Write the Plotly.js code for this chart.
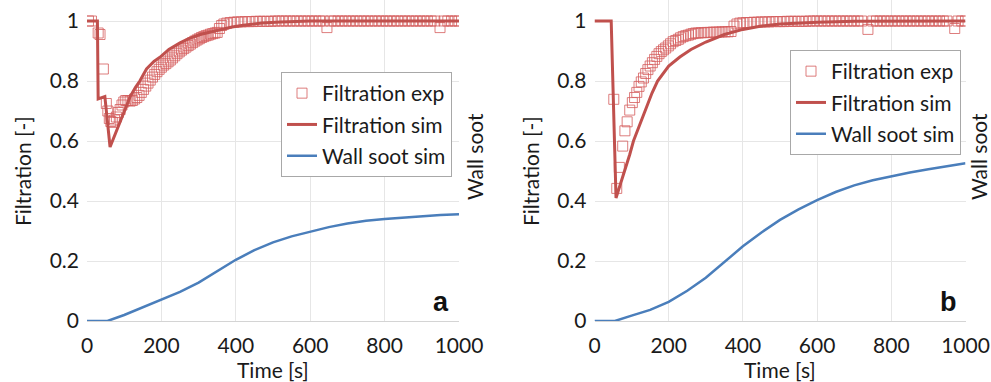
<!DOCTYPE html>
<html>
<head>
<meta charset="utf-8">
<script src="https://cdn.plot.ly/plotly-3.0.1.min.js"></script>
<style>html,body{margin:0;padding:0;background:#fff;}#chart{width:991px;height:382px;}</style>
</head>
<body>
<div id="chart"></div>
<script>
// ---- Panel a data ----
const expA_t = [4, 12, 30, 35, 44, 52, 56, 60, 64, 69, 74, 79, 84, 89, 94, 99, 104, 110, 116, 122, 128, 134, 140, 146, 152, 158, 164, 170, 176, 182, 188, 194, 200, 206, 212, 218, 224, 230, 236, 242, 248, 254, 260, 266, 272, 278, 284, 290, 296, 302, 308, 314, 320, 326, 332, 338, 344, 350, 356, 362, 368, 376, 385, 395, 405, 415, 425, 435, 445, 455, 465, 475, 485, 495, 505, 515, 525, 535, 545, 555, 565, 575, 585, 595, 605, 615, 625, 635, 645, 655, 665, 675, 685, 695, 705, 715, 725, 735, 745, 755, 765, 775, 785, 795, 805, 815, 825, 835, 845, 855, 865, 875, 885, 895, 905, 915, 925, 935, 949, 960, 970, 980, 990, 1000];
const expA_v = [1.0, 1.0, 0.96, 0.955, 0.84, 0.725, 0.70, 0.675, 0.665, 0.662, 0.67, 0.68, 0.695, 0.705, 0.72, 0.73, 0.735, 0.735, 0.733, 0.735, 0.74, 0.745, 0.752, 0.762, 0.772, 0.783, 0.793, 0.803, 0.813, 0.822, 0.831, 0.839, 0.846, 0.853, 0.858, 0.864, 0.870, 0.877, 0.884, 0.891, 0.897, 0.903, 0.908, 0.913, 0.918, 0.923, 0.928, 0.933, 0.937, 0.941, 0.945, 0.948, 0.951, 0.953, 0.956, 0.958, 0.960, 0.962, 0.975, 0.985, 0.990, 0.993, 0.995, 0.996, 0.997, 0.997, 0.998, 0.998, 0.998, 0.999, 0.999, 0.999, 0.999, 0.999, 1.0, 1.0, 1.0, 1.0, 1.0, 1.0, 1.0, 1.0, 1.0, 1.0, 1.0, 1.0, 1.0, 1.0, 0.978, 1.0, 1.0, 1.0, 1.0, 1.0, 1.0, 1.0, 1.0, 1.0, 1.0, 1.0, 1.0, 1.0, 1.0, 1.0, 1.0, 1.0, 1.0, 1.0, 1.0, 1.0, 1.0, 1.0, 1.0, 1.0, 1.0, 1.0, 1.0, 1.0, 0.978, 1.0, 1.0, 1.0, 1.0, 1.0];
const simA_t = [0, 28, 30, 40, 48, 62, 80, 100, 116, 130, 142, 160, 180, 196, 220, 250, 275, 304, 330, 357, 390, 420, 470, 520, 600, 700, 800, 900, 1000];
const simA_v = [1.0, 1.0, 0.74, 0.745, 0.748, 0.58, 0.635, 0.70, 0.748, 0.778, 0.80, 0.84, 0.865, 0.879, 0.905, 0.927, 0.942, 0.955, 0.963, 0.970, 0.980, 0.986, 0.993, 0.997, 1.0, 1.0, 1.0, 1.0, 1.0];
const wallA_t = [0, 55, 100, 150, 200, 250, 300, 350, 400, 450, 500, 550, 600, 650, 700, 750, 800, 850, 900, 950, 1000];
const wallA_v = [0, 0, 0.02, 0.045, 0.07, 0.097, 0.128, 0.165, 0.204, 0.236, 0.262, 0.282, 0.298, 0.313, 0.325, 0.334, 0.340, 0.345, 0.349, 0.353, 0.356];

// ---- Panel b data ----
const expB_t = [52, 60, 67, 76, 82, 88, 95, 102, 108, 114, 120, 126, 132, 138, 144, 150, 156, 162, 168, 174, 180, 186, 192, 199, 205, 212, 219, 226, 232, 239, 246, 253, 260, 266, 273, 280, 288, 296, 304, 312, 320, 328, 336, 344, 352, 360, 368, 376, 384, 392, 400, 410, 420, 430, 440, 450, 460, 470, 480, 490, 500, 510, 520, 530, 540, 550, 560, 570, 580, 590, 600, 610, 620, 630, 640, 650, 660, 670, 680, 690, 700, 710, 720, 737, 750, 760, 770, 780, 790, 800, 810, 820, 830, 840, 850, 860, 870, 880, 890, 900, 910, 920, 930, 940, 950, 971, 980, 990, 1000];
const expB_v = [0.739, 0.442, 0.512, 0.583, 0.634, 0.664, 0.703, 0.728, 0.745, 0.762, 0.782, 0.797, 0.810, 0.825, 0.838, 0.850, 0.861, 0.872, 0.882, 0.891, 0.898, 0.904, 0.910, 0.917, 0.924, 0.931, 0.935, 0.939, 0.944, 0.948, 0.951, 0.953, 0.956, 0.958, 0.960, 0.960, 0.961, 0.961, 0.962, 0.962, 0.963, 0.963, 0.963, 0.964, 0.964, 0.964, 0.965, 0.983, 0.990, 0.993, 0.994, 0.995, 0.995, 0.996, 0.996, 0.997, 0.997, 0.997, 0.998, 0.998, 0.998, 0.998, 0.999, 0.999, 0.999, 0.999, 0.999, 0.999, 1.0, 1.0, 1.0, 1.0, 1.0, 1.0, 1.0, 1.0, 1.0, 1.0, 1.0, 1.0, 1.0, 1.0, 1.0, 0.972, 1.0, 1.0, 1.0, 1.0, 1.0, 1.0, 1.0, 1.0, 1.0, 1.0, 1.0, 1.0, 1.0, 1.0, 1.0, 1.0, 1.0, 1.0, 1.0, 1.0, 1.0, 0.975, 1.0, 1.0, 1.0];
const simB_t = [0, 45, 58, 70, 82, 95, 105, 120, 140, 155, 170, 200, 230, 260, 300, 350, 400, 450, 500, 600, 700, 800, 900, 1000];
const simB_v = [1.0, 1.0, 0.41, 0.455, 0.50, 0.555, 0.60, 0.65, 0.71, 0.76, 0.80, 0.85, 0.88, 0.905, 0.93, 0.955, 0.972, 0.983, 0.99, 0.996, 0.999, 1.0, 1.0, 1.0];
const wallB_t = [0, 55, 100, 150, 200, 250, 300, 350, 400, 450, 500, 550, 600, 650, 700, 750, 800, 850, 900, 950, 1000];
const wallB_v = [0, 0, 0.018, 0.037, 0.064, 0.101, 0.144, 0.196, 0.249, 0.295, 0.337, 0.372, 0.403, 0.43, 0.452, 0.469, 0.483, 0.495, 0.506, 0.517, 0.526];

// ---- Labels ----
const seriesNames = ["Filtration exp", "Filtration sim", "Wall soot sim"];
const xTitle = "Time [s]";
const yTitle = "Filtration [-]";
const y2Title = "Wall soot";
const panelLetters = ["a", "b"];

const W = 991, H = 382;
const FONT = "Lato, 'Open Sans', sans-serif";
const expStyle = {symbol: "square-open", size: 10, color: "rgba(212,92,92,0.8)", line: {width: 1}};
const simLine = {color: "#c0504d", width: 3};
const wallLine = {color: "#4a7ebb", width: 2.5};

function panel(xa, ya, leg, et, ev, st, sv, wt, wv, g) {
  return [
    {x: et, y: ev, xaxis: xa, yaxis: ya, legend: leg, legendgroup: g + "1", type: "scatter", mode: "markers", name: seriesNames[0], marker: expStyle},
    {x: st, y: sv, xaxis: xa, yaxis: ya, legend: leg, legendgroup: g + "2", type: "scatter", mode: "lines", name: seriesNames[1], line: simLine},
    {x: wt, y: wv, xaxis: xa, yaxis: ya, legend: leg, legendgroup: g + "3", type: "scatter", mode: "lines", name: seriesNames[2], line: wallLine}
  ];
}

const data = [].concat(
  panel("x", "y", "legend", expA_t, expA_v, simA_t, simA_v, wallA_t, wallA_v, "a"),
  panel("x2", "y2", "legend2", expB_t, expB_v, simB_t, simB_v, wallB_t, wallB_v, "b")
);

const px = v => v / W;
const py = v => 1 - v / H;

const xCommon = {range: [0, 1000], dtick: 200, tick0: 0, showgrid: true, gridcolor: "#e6e6e6", gridwidth: 1,
  zeroline: false, showline: true, linecolor: "#d4d4d4", linewidth: 1, ticks: "", ticklabelstandoff: 6,
  tickfont: {family: FONT, size: 21, color: "#1a1a1a"}, fixedrange: true};
const yCommon = {range: [0, 1.07], dtick: 0.2, tick0: 0, showgrid: true, gridcolor: "#e6e6e6", gridwidth: 1,
  zeroline: false, showline: false, ticks: "", ticklabelstandoff: 7,
  tickfont: {family: FONT, size: 21, color: "#1a1a1a"}, fixedrange: true};
const legCommon = {bgcolor: "#ffffff", bordercolor: "#a8a8a8", borderwidth: 1, xanchor: "left", yanchor: "top",
  font: {family: FONT, size: 21, color: "#1a1a1a"}, tracegroupgap: 1};

function ann(text, x, y, size, angle, extra) {
  return Object.assign({text: text, xref: "paper", yref: "paper", x: px(x), y: py(y), xanchor: "center", yanchor: "middle",
    showarrow: false, textangle: angle, font: {family: FONT, size: size, color: "#1a1a1a"}}, extra || {});
}

const layout = {
  width: W, height: H,
  margin: {l: 0, r: 0, t: 0, b: 0},
  paper_bgcolor: "#ffffff", plot_bgcolor: "#ffffff",
  showlegend: true,
  xaxis: Object.assign({}, xCommon, {domain: [px(87), px(459)], anchor: "y"}),
  yaxis: Object.assign({}, yCommon, {domain: [1 - 321 / H, 1], anchor: "x"}),
  xaxis2: Object.assign({}, xCommon, {domain: [px(594.5), px(965.5)], anchor: "y2"}),
  yaxis2: Object.assign({}, yCommon, {domain: [1 - 321 / H, 1], anchor: "x2"}),
  legend: Object.assign({}, legCommon, {x: px(281), y: py(72)}),
  legend2: Object.assign({}, legCommon, {x: px(790), y: py(50)}),
  annotations: [
    ann(yTitle, 22, 171, 21, -90),
    ann(yTitle, 530, 171, 21, -90),
    ann(xTitle, 273, 369, 21, 0),
    ann(xTitle, 780, 369, 21, 0),
    ann(y2Title, 475, 157, 21, -90),
    ann(y2Title, 979, 157, 21, -90),
    ann(panelLetters[0], 441, 302, 27, 0, {font: {family: "'Liberation Sans', Arial, sans-serif", size: 27, color: "#111111", weight: "bold"}}),
    ann(panelLetters[1], 948, 302, 27, 0, {font: {family: "'Liberation Sans', Arial, sans-serif", size: 27, color: "#111111", weight: "bold"}})
  ],
  hovermode: false
};

Plotly.newPlot("chart", data, layout, {displayModeBar: false, staticPlot: true});
</script>
</body>
</html>
